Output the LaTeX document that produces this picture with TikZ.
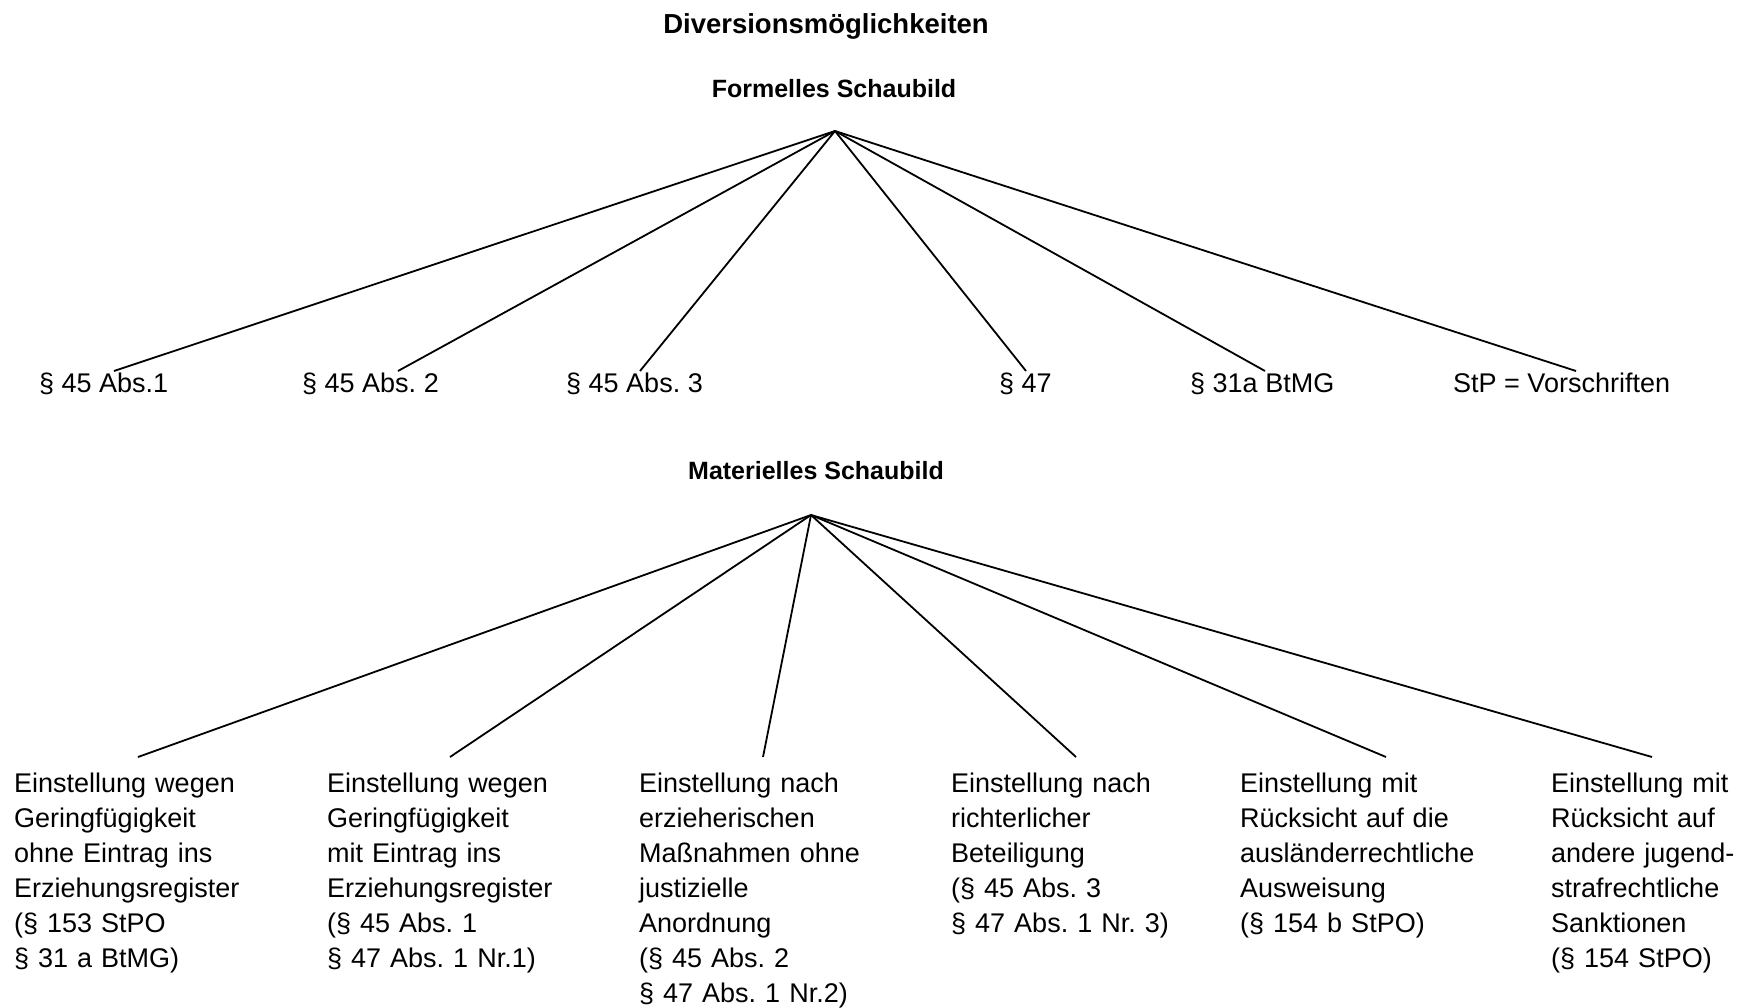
\documentclass[tikz,border=0pt]{standalone}
\usepackage{fontspec}
\setmainfont{Liberation Sans}
\frenchspacing
\begin{document}
\frenchspacing
\begin{tikzpicture}[x=1pt,y=-1pt,
  lbl/.style={anchor=base west,inner sep=0pt,font=\fontsize{27}{35}\selectfont},
  txt/.style={anchor=base west,inner sep=0pt,align=left,text width=300pt,font=\fontsize{27}{35}\selectfont},
  ttl/.style={anchor=base,inner sep=0pt,font=\fontsize{25}{30}\selectfont\bfseries},
  conn/.style={line width=1.8pt}]
\useasboundingbox (0,0) rectangle (1755,1007);

% titles
\node[ttl,font=\fontsize{27.5}{32}\selectfont\bfseries] (title) at (826,33) {Diversionsmöglichkeiten};
\node[ttl] (formtitle) at (834,97) {Formelles Schaubild};
\node[ttl] (mattitle) at (816,479) {Materielles Schaubild};

% formal tree
\coordinate (fa) at (835,131);
\node[lbl] (f1) at (39,392) {§ 45 Abs.1};
\node[lbl] (f2) at (302,392) {§ 45 Abs. 2};
\node[lbl] (f3) at (566,392) {§ 45 Abs. 3};
\node[lbl] (f4) at (999,392) {§ 47};
\node[lbl] (f5) at (1190,392) {§ 31a BtMG};
\node[lbl] (f6) at (1453,392) {StP = Vorschriften};
\coordinate (f1e) at (114,371);
\coordinate (f2e) at (398,371);
\coordinate (f3e) at (640,371);
\coordinate (f4e) at (1026,371);
\coordinate (f5e) at (1265,371);
\coordinate (f6e) at (1576,371);
\foreach \i in {1,...,6} \draw[conn] (fa) -- (f\i e);

% material tree
\coordinate (ma) at (811,515);
\node[txt] (m1) at (14,792) {Einstellung wegen\\Geringfügigkeit\\ohne Eintrag ins\\Erziehungsregister\\(§ 153 StPO\\§ 31 a BtMG)};
\node[txt] (m2) at (327,792) {Einstellung wegen\\Geringfügigkeit\\mit Eintrag ins\\Erziehungsregister\\(§ 45 Abs. 1\\§ 47 Abs. 1 Nr.1)};
\node[txt] (m3) at (639,792) {Einstellung nach\\erzieherischen\\Maßnahmen ohne\\justizielle\\Anordnung\\(§ 45 Abs. 2\\§ 47 Abs. 1 Nr.2)};
\node[txt] (m4) at (951,792) {Einstellung nach\\richterlicher\\Beteiligung\\(§ 45 Abs. 3\\§ 47 Abs. 1 Nr. 3)};
\node[txt] (m5) at (1240,792) {Einstellung mit\\Rücksicht auf die\\ausländerrechtliche\\Ausweisung\\(§ 154 b StPO)};
\node[txt] (m6) at (1551,792) {Einstellung mit\\Rücksicht auf\\andere jugend-\\strafrechtliche\\Sanktionen\\(§ 154 StPO)};
\coordinate (m1e) at (138,757);
\coordinate (m2e) at (450,757);
\coordinate (m3e) at (763,757);
\coordinate (m4e) at (1076,757);
\coordinate (m5e) at (1386,757);
\coordinate (m6e) at (1652,757);
\foreach \i in {1,...,6} \draw[conn] (ma) -- (m\i e);
\end{tikzpicture}
\end{document}
